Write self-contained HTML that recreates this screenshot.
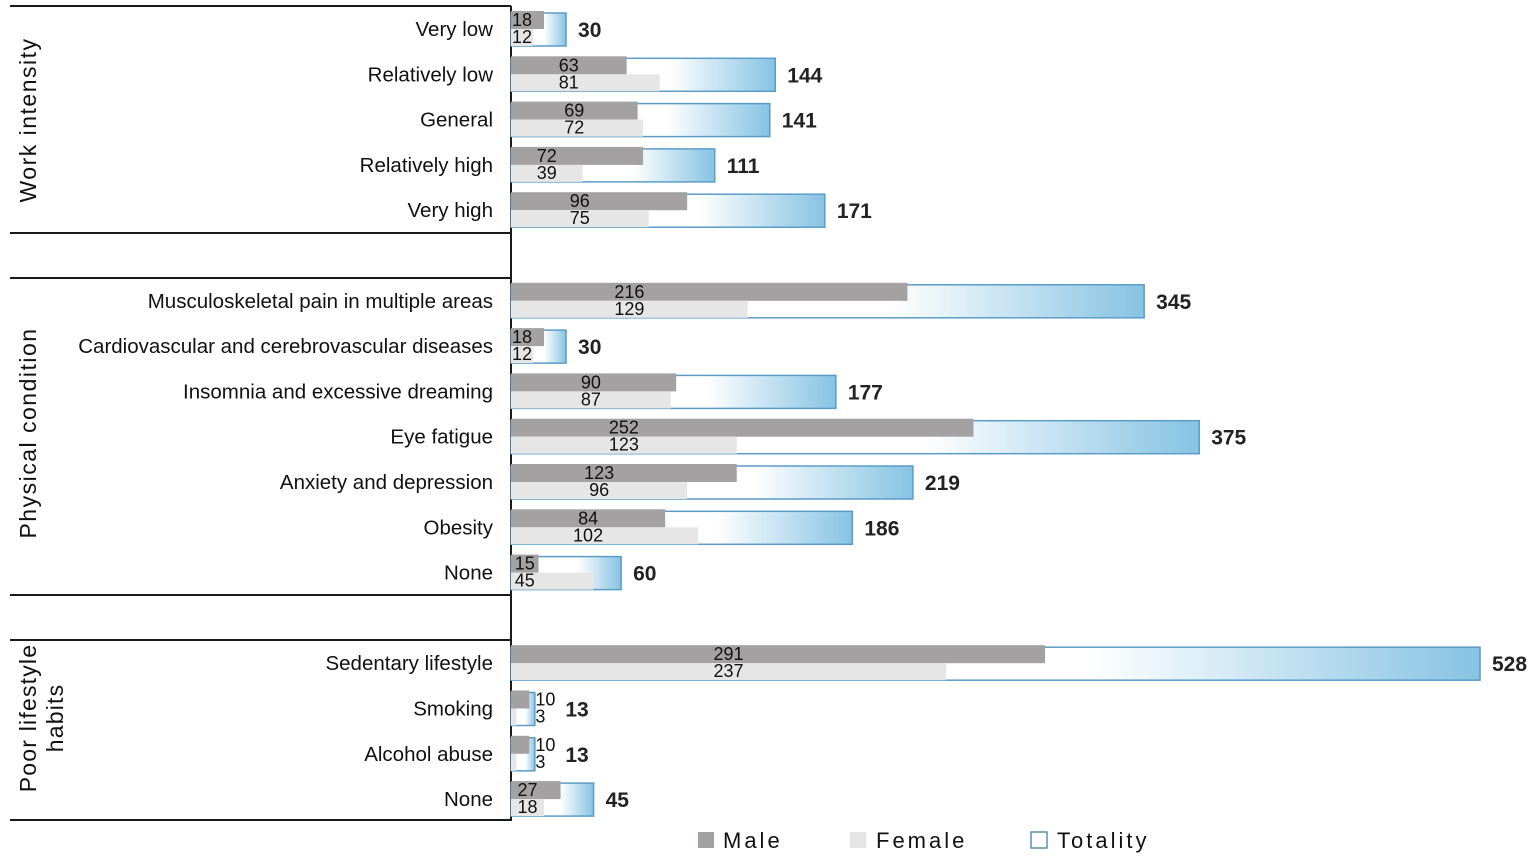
<!DOCTYPE html>
<html><head><meta charset="utf-8"><style>
html,body{margin:0;padding:0;background:#fff;}
svg{display:block;font-family:"Liberation Sans",sans-serif;}
</style></head><body>
<svg id="chart" width="1535" height="861" viewBox="0 0 1535 861">
<defs>
<linearGradient id="tg" x1="0" x2="1" y1="0" y2="0">
<stop offset="0" stop-color="#ffffff"/><stop offset="0.6" stop-color="#ffffff"/><stop offset="1" stop-color="#86c3e3"/>
</linearGradient>
</defs>
<g id="frame" stroke="#1a1a1a" stroke-width="2">
<line x1="10" y1="6" x2="511" y2="6"/>
<line x1="511" y1="6" x2="511" y2="821"/>
<line x1="10" y1="233" x2="511" y2="233"/>
<line x1="10" y1="278" x2="511" y2="278"/>
<line x1="10" y1="595" x2="511" y2="595"/>
<line x1="10" y1="640" x2="511" y2="640"/>
<line x1="10" y1="820" x2="511" y2="820"/>
</g>
<text transform="translate(36,120) rotate(-90)" text-anchor="middle" font-size="23" letter-spacing="1.5" fill="#111">Work intensity</text>
<text transform="translate(36,433) rotate(-90)" text-anchor="middle" font-size="23" letter-spacing="1.5" fill="#111">Physical condition</text>
<text transform="translate(36,718) rotate(-90)" text-anchor="middle" font-size="23" letter-spacing="1.2" fill="#111"><tspan x="0" dy="0">Poor lifestyle</tspan><tspan x="0" dy="27">habits</tspan></text>
<g id="bars"></g>
<g id="legend">
<rect x="698" y="832" width="16" height="16" fill="#a3a1a1"/>
<text x="723" y="848" font-size="22" letter-spacing="3" fill="#111">Male</text>
<rect x="850" y="832" width="16" height="16" fill="#e6e6e6"/>
<text x="876" y="848" font-size="22" letter-spacing="3" fill="#111">Female</text>
<rect x="1031" y="832" width="16" height="16" fill="#fff" stroke="#5b8fae" stroke-width="1.5"/>
<text x="1057" y="848" font-size="22" letter-spacing="3" fill="#111">Totality</text>
</g>
</svg>
<script>
const categories=["Very low","Relatively low","General","Relatively high","Very high","",
"Musculoskeletal pain in multiple areas","Cardiovascular and cerebrovascular diseases","Insomnia and excessive dreaming","Eye fatigue","Anxiety and depression","Obesity","None","",
"Sedentary lifestyle","Smoking","Alcohol abuse","None"];
const maleValues=[18,63,69,72,96,null,216,18,90,252,123,84,15,null,291,10,10,27];
const femaleValues=[12,81,72,39,75,null,129,12,87,123,96,102,45,null,237,3,3,18];
const totalValues=[30,144,141,111,171,null,345,30,177,375,219,186,60,null,528,13,13,45];

const NS="http://www.w3.org/2000/svg";
const x0=511, scale=969/528;
function xs(v){return x0+v*scale;}
function yc(i){return 29+i*45.3;}
const g=document.getElementById('bars');
function mk(tag,attrs){const e=document.createElementNS(NS,tag);for(const k in attrs)e.setAttribute(k,attrs[k]);g.appendChild(e);return e;}
categories.forEach((c,i)=>{
  const y=yc(i);
  if(c!==""){
    const lb=mk('text',{x:493,y:y+7,'text-anchor':'end','font-size':20.5,fill:'#111'});
    
    
    lb.textContent=c;
  }
  if(totalValues[i]==null)return;
  const m=maleValues[i],f=femaleValues[i],t=totalValues[i];
  const tb=mk('rect',{x:x0,y:y-16,width:xs(t)-x0,height:33,fill:'url(#tg)',stroke:'#5b9cc7','stroke-width':1.5});
  
  
  const mb=mk('rect',{x:x0,y:y-18,width:xs(m)-x0,height:18,fill:'#a3a1a1'});
  
  
  const fb=mk('rect',{x:x0,y:y,width:xs(f)-x0,height:17,fill:'#e6e6e6'});
  
  
  let cx=x0+(Math.min(m,f)*scale)/2;
  let anchor='middle';
  let innerEnd=0;
  if(t<20){cx=xs(m)+6;anchor='start';innerEnd=cx+20;}
  else if(cx<524){cx=x0+1;anchor='start';innerEnd=cx+20;}
  const ml=mk('text',{x:cx,y:y-3,'text-anchor':anchor,'font-size':18,fill:'#111'});
  
  
  ml.textContent=m;
  const fl=mk('text',{x:cx,y:y+14,'text-anchor':anchor,'font-size':18,fill:'#111'});
  
  
  fl.textContent=f;
  const tx=Math.max(xs(t)+12,innerEnd+10);
  const tl=mk('text',{x:tx,y:y+8,'font-size':21,'font-weight':'bold',fill:'#222'});
  
  
  tl.textContent=t;
});
</script>
</body></html>
